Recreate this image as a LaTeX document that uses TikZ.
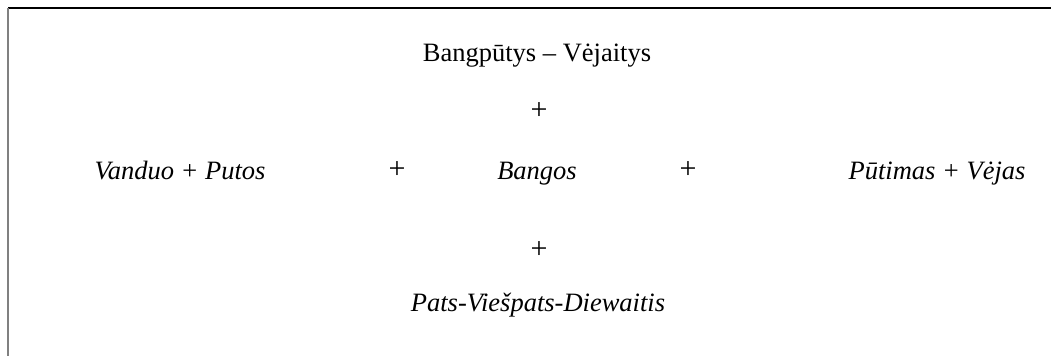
\documentclass[tikz,border=0pt]{standalone}
\usepackage{fontspec}
\setmainfont{Liberation Serif}
\usepackage{tikz}
\usetikzlibrary{positioning}

\begin{document}
\begin{tikzpicture}[x=0.4pt,y=-0.4pt,
    every node/.style={inner sep=0pt, font=\fontsize{10.6}{13}\selectfont},
    term/.style={anchor=base, font=\fontsize{10.6}{13}\selectfont\itshape},
    plus/.style={font=\fontsize{12}{14}\selectfont}]
  \useasboundingbox (0,0) rectangle (1051,356);
  \draw[line width=0.8pt] (8,8) -- (1051,8);
  \draw[line width=0.8pt, gray] (8,8) -- (8,356);

  \node[anchor=base] (top) at (537,61) {Bangpūtys – Vėjaitys};
  \node[plus] (p1) at (539,111) {+};
  \node[term] (water) at (180,179) {Vanduo + Putos};
  \node[plus] (p2) at (397,170) {+};
  \node[term] (waves) at (537,179) {Bangos};
  \node[plus] (p3) at (688,170) {+};
  \node[term] (wind) at (937,179) {Pūtimas + Vėjas};
  \node[plus] (p4) at (539,250) {+};
  \node[term] (lord) at (538,311) {Pats-Viešpats-Diewaitis};
\end{tikzpicture}
\end{document}
